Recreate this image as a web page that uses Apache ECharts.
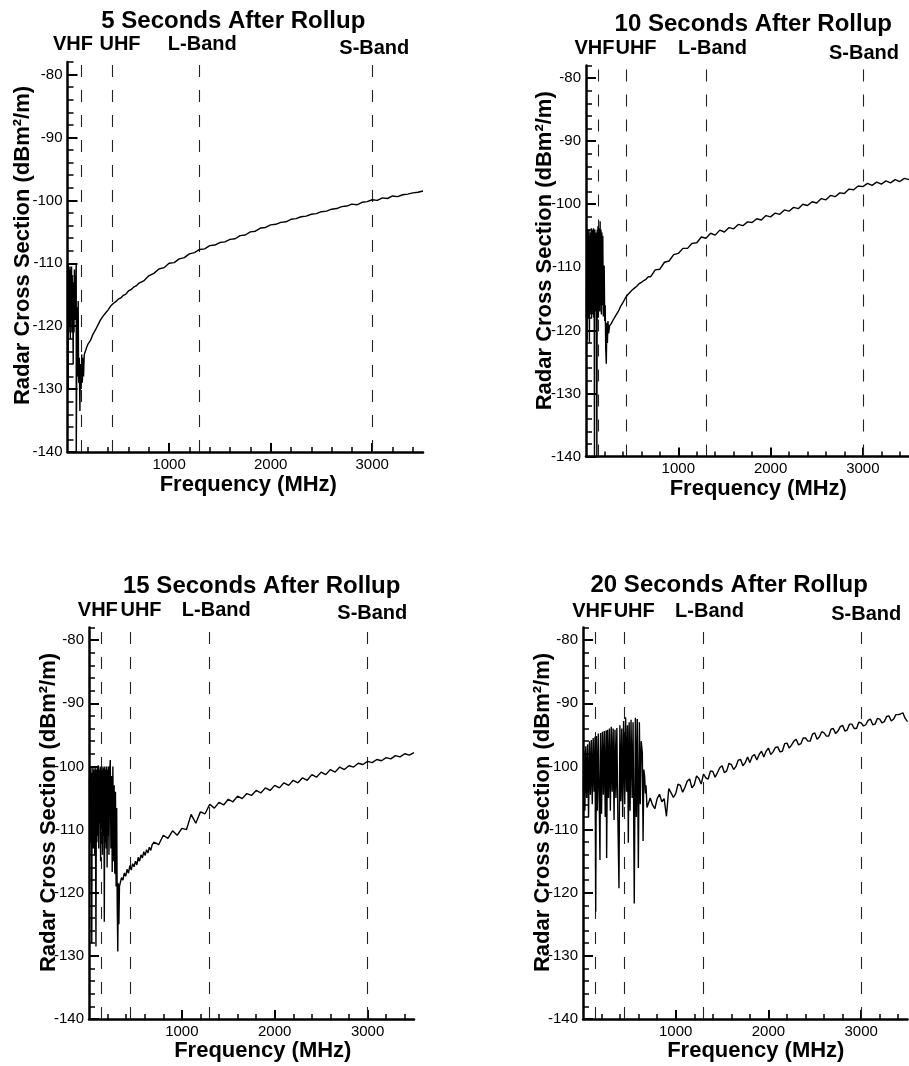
<!DOCTYPE html>
<html><head><meta charset="utf-8">
<script src="https://cdn.jsdelivr.net/npm/echarts@6/dist/echarts.min.js"></script>
<style>html,body{margin:0;padding:0;background:#fff}#c{width:909px;height:1066px}</style>
</head><body><div id="c"></div>
<script>
// ---------------- DATA ----------------
const panelTitles = ['5 Seconds After Rollup', '10 Seconds After Rollup', '15 Seconds After Rollup', '20 Seconds After Rollup'];
const bandNames = ['VHF', 'UHF', 'L-Band', 'S-Band'];
const bandFreqs = [135, 440, 1300, 3000];
const xTitle = 'Frequency (MHz)';
const yTitle = 'Radar Cross Section (dBm\u00B2/m)';
const xMajorTicks = [1000, 2000, 3000];
const xMinorTicks = [200, 400, 600, 800, 1200, 1400, 1600, 1800, 2200, 2400, 2600, 2800, 3200, 3400];
const yMajorTicks = [-140, -130, -120, -110, -100, -90, -80];
const yMinorTicks = [-138, -136, -134, -132, -128, -126, -124, -122, -118, -116, -114, -112, -108, -106, -104, -102, -98, -96, -94, -92, -88, -86, -84, -82, -78];

// low-frequency parts (MHz, dBm^2/m)
const low5s = [[86,-130],[8,-130],[8,-110],[12,-121],[16,-111],[20,-120],[24,-110.5],[28,-122],[32,-111],[36,-119],
 [40,-110.5],[44,-121],[48,-112],[52,-118],[56,-126],[60,-113],[64,-121],[68,-111],[72,-119],[76,-112],
 [80,-117],[84,-111],[86,-110],[86,-142],[94,-117],[100,-128],[105,-116],[110,-129],[116,-125],[122,-133.5],
 [128,-126],[134,-130],[140,-124.5],[146,-129],[152,-125],[158,-128],[165,-124.5],[175,-124.3],[190,-123.3],[200,-122.9],
 [225,-122.3],[250,-121.3],[275,-120.6],[300,-119.8],[325,-119.0],[350,-118.4],[375,-117.9],[400,-117.4],[425,-116.8],[450,-116.4],
 [475,-116.1],[500,-115.7],[525,-115.5],[550,-115.1],[575,-114.9],[600,-114.4],[625,-114.2],[650,-113.8],[675,-113.6]];

const low10s = [[5,-118],[8,-105],[12,-121.5],[16,-104],[20,-117],[24,-106],[28,-118],[32,-104],[37,-122],[41,-105],
 [45,-117.5],[49,-104.5],[53,-116],[57,-103.8],[61,-118],[65,-105],[69,-116.5],[73,-104],[77,-117.5],[81,-103.8],
 [85,-118],[88,-105],[92,-142],[96,-104],[100,-117],[104,-105],[108,-116],[112,-104.5],[118,-142],[122,-104],
 [126,-117],[130,-103.5],[134,-118],[138,-104],[142,-116.5],[146,-103.8],[150,-117],[153,-102.7],[158,-116],[162,-104],
 [167,-117.5],[172,-104.5],[177,-116],[182,-105],[188,-117.8],[197,-109.7],[203,-118.5],[208,-116],[214,-123],[220,-125.3],
 [226,-118.8],[232,-122],[238,-118.5],[245,-120.5],[255,-119.3],[275,-118.9],[300,-118.2],[325,-117.6],[350,-117.0],[375,-116.2],
 [400,-115.6],[425,-114.9],[450,-114.4],[475,-114.0],[500,-113.6],[525,-113.3],[550,-113.0],[575,-112.6],[600,-112.4],[625,-112.1],
 [650,-111.9],[675,-111.5]];

const low15s = [[5,-102],[9,-110],[13,-100.5],[17,-112],[21,-100.2],[25,-109],[30,-128],[34,-101],[38,-111],[42,-100],
 [46,-113],[50,-100.5],[54,-109],[58,-101],[62,-114],[66,-100],[70,-110],[75,-128.5],[80,-100.5],[85,-112],
 [90,-100],[95,-111],[100,-99.8],[105,-113],[110,-100.5],[115,-109],[120,-100],[125,-115],[130,-100.2],[135,-110],
 [140,-100.5],[145,-114],[150,-100],[155,-111],[160,-100.3],[165,-124.6],[170,-100],[175,-112],[180,-100.5],[185,-113],
 [190,-100],[195,-116],[200,-100.5],[205,-111],[210,-100],[215,-114],[222,-101],[229,-99],[236,-113],[243,-101.5],
 [250,-116.7],[257,-100],[264,-115],[271,-103],[278,-117],[285,-104],[292,-119],[298,-106.6],[304,-122],[310,-129.3],
 [316,-118.5],[322,-125],[328,-119],[335,-118.7],[350,-117.6],[365,-118.0],[380,-116.9],[395,-117.4],[410,-116.3],[425,-116.9],
 [440,-115.7],[455,-116.4],[470,-115.4],[485,-115.9],[500,-115.0],[515,-115.6],[530,-114.4],[545,-115.0],[560,-114.0],[575,-114.5],
 [590,-113.5],[605,-114.1],[620,-113.2],[635,-113.7],[650,-112.8],[665,-113.3],[680,-112.4]];

const low20s = [[5,-104],[10,-97.5],[20,-107],[30,-96.8],[40,-105],[50,-96.5],[60,-108],[70,-96],[80,-104.5],[90,-95.8],
 [100,-106],[110,-95.5],[120,-104],[130,-95.3],[137,-123],[145,-95.2],[155,-107],[165,-94.8],[175,-105],[183,-114.8],
 [190,-94.7],[200,-107.5],[210,-94.5],[220,-104.5],[230,-94.4],[240,-108],[250,-94.3],[255,-114.5],[265,-94.2],[275,-105],
 [285,-94],[295,-107],[305,-93.7],[315,-104],[325,-94],[335,-108.5],[345,-94.2],[355,-105],[365,-93.9],[375,-107],
 [388,-119.3],[398,-93.5],[408,-105.5],[418,-94],[428,-108],[438,-92.8],[450,-106],[460,-92.2],[470,-104],[480,-93.5],
 [489,-112.1],[498,-93],[508,-107],[518,-92.6],[530,-105],[540,-93],[553,-121.7],[565,-92.3],[575,-108],[585,-92.5],
 [597,-116.1],[608,-93],[618,-106],[628,-96],[640,-97.9],[648,-111.8],[656,-100.5],[665,-101.6],[673,-104.3],[680,-103],
 [690,-106.5]];

// high-frequency part, shared frequency grid
const freqHigh = [700,750,800,850,900,950,1000,1050,1100,1150,
 1200,1250,1300,1350,1400,1450,1500,1550,1600,1650,
 1700,1750,1800,1850,1900,1950,2000,2050,2100,2150,
 2200,2250,2300,2350,2400,2450,2500,2550,2600,2650,
 2700,2750,2800,2850,2900,2950,3000,3050,3100,3150,
 3200,3250,3300,3350,3400,3450,3500];

const high5s = [-113.2,-112.8,-112.0,-111.6,-110.9,-110.7,-110.0,-109.9,-109.3,-109.1,
 -108.5,-108.3,-107.8,-107.7,-107.2,-107.1,-106.7,-106.6,-106.2,-106.1,
 -105.6,-105.5,-105.0,-104.9,-104.4,-104.3,-103.9,-103.8,-103.5,-103.4,
 -103.0,-102.9,-102.6,-102.5,-102.2,-102.1,-101.8,-101.7,-101.4,-101.3,
 -101.0,-100.9,-100.6,-100.7,-100.3,-100.2,-99.9,-100.0,-99.6,-99.7,
 -99.3,-99.4,-99.1,-99.0,-98.8,-98.7,-98.5];

const high10s = [-111.5,-110.4,-110.3,-109.2,-109.0,-108.0,-107.8,-107.0,-107.0,-106.2,
 -106.1,-105.2,-105.4,-104.6,-104.9,-104.1,-104.4,-103.7,-103.9,-103.2,
 -103.4,-102.8,-102.9,-102.3,-102.5,-101.8,-102.0,-101.4,-101.6,-100.9,
 -101.1,-100.5,-100.7,-100.0,-100.2,-99.6,-99.8,-99.1,-99.3,-98.6,
 -98.8,-98.2,-98.3,-97.6,-97.7,-97.1,-97.2,-96.7,-97.0,-96.5,
 -96.8,-96.3,-96.6,-96.1,-96.4,-95.9,-96.1];

const high15s = [-112.0,-112.4,-110.9,-111.4,-110.2,-110.9,-109.8,-110.0,-107.6,-109.0,
 -107.2,-107.5,-106.0,-106.6,-105.7,-106.1,-105.2,-105.6,-104.7,-105.1,
 -104.3,-104.6,-103.8,-104.2,-103.4,-103.8,-103.0,-103.4,-102.6,-103.0,
 -102.2,-102.6,-101.8,-102.2,-101.3,-101.7,-100.9,-101.3,-100.5,-100.9,
 -100.1,-100.5,-99.9,-100.1,-99.5,-99.7,-99.2,-99.4,-98.9,-99.1,
 -98.6,-98.8,-98.3,-98.5,-98.0,-98.2,-97.8];

const high20s = [-106.6,-106.1,-105.1,-105.6,-107.9,-104.2,-104.3,-103.0,-103.3,-102.0,
 -102.9,-101.9,-101.2,-102.0,-100.8,-101.0,-99.9,-100.7,-99.7,-100.0,
 -98.9,-99.4,-99.4,-98.1,-98.1,-98.5,-97.1,-97.7,-96.9,-97.6,
 -96.3,-96.6,-95.7,-96.4,-95.5,-96.0,-94.7,-95.3,-94.7,-95.2,
 -94.0,-94.4,-93.5,-94.2,-93.3,-94.0,-93.1,-93.4,-92.5,-93.3,
 -92.5,-92.9,-92.0,-92.5,-91.8,-91.5,-92.9];

// extra in-between samples for the noisier 20 s trace
const freqMid = [725,775,825,875,925,975,1025,1075,1125,1175,
 1225,1275,1325,1375,1425,1475,1525,1575,1625,1675,
 1725,1775,1825,1875,1925,1975,2025,2075,2125,2175,
 2225,2275,2325,2375,2425,2475,2525,2575,2625,2675,
 2725,2775,2825,2875,2925,2975,3025,3075,3125,3175,
 3225,3275,3325,3375,3425,3475];
const mid20s = [-105.0,-106.7,-104.4,-105.1,-103.5,-104.9,-102.8,-104.1,-102.3,-103.4,
 -101.5,-102.8,-101.8,-100.7,-101.7,-100.2,-101.0,-99.5,-100.5,-99.0,
 -99.9,-98.5,-98.4,-99.0,-97.6,-97.6,-98.1,-97.0,-97.7,-96.4,
 -97.1,-96.0,-96.6,-95.5,-96.0,-94.9,-95.7,-94.5,-95.2,-94.1,
 -94.8,-93.7,-94.4,-93.3,-94.0,-93.0,-93.6,-92.7,-93.4,-92.4,
 -93.1,-92.1,-92.8,-91.8,-91.7,-92.4];

// ---------------- LAYOUT ----------------
const FONT = '"Liberation Sans", Arial, Helvetica, sans-serif';
const grids = [
  {left: 67.5, top: 62, width: 355.5, height: 390},
  {left: 586, top: 65.5, width: 323, height: 391},
  {left: 89, top: 627.5, width: 325, height: 391.5},
  {left: 583, top: 627.5, width: 324.5, height: 391.5}
];
const textPos = [
  {title: [233.3, 21], bands: [[73, 44.7], [120, 44.7], [202.3, 44.7], [374.3, 48.3]], xName: [248.3, 485.2], yName: [23.3, 245.5]},
  {title: [753.3, 24.7], bands: [[594.5, 48], [636, 48], [712.5, 48], [864, 53]], xName: [758.3, 489.2], yName: [544.7, 250.8]},
  {title: [261.7, 586.7], bands: [[97.8, 610], [141, 610], [216.3, 610], [372.3, 613.7]], xName: [262.8, 1050.8], yName: [49.2, 812.5]},
  {title: [729.2, 585], bands: [[592.2, 611.3], [634.2, 611.3], [709.5, 611.3], [866.2, 614.7]], xName: [755.8, 1050.8], yName: [542.5, 812.5]}
];

function pairs(freqs, vals) { return freqs.map((f, i) => [f, vals[i]]); }
const high20Merged = pairs(freqHigh, high20s).concat(pairs(freqMid, mid20s)).sort((a, b) => a[0] - b[0]);
const seriesData = [
  low5s.concat(pairs(freqHigh, high5s)),
  low10s.concat(pairs(freqHigh, high10s)),
  low15s.concat(pairs(freqHigh, high15s)),
  low20s.concat(high20Merged)
];
const plainNum = v => String(v);

const xAxes = [], yAxes = [], series = [], graphics = [];
grids.forEach((g, i) => {
  xAxes.push({
    type: 'value', gridIndex: i, min: 0, max: 3500, position: 'bottom',
    axisLine: {show: true, lineStyle: {color: '#000', width: 2.5}},
    axisTick: {show: true, inside: true, length: 9, customValues: xMajorTicks, lineStyle: {color: '#000', width: 2}},
    axisLabel: {show: true, customValues: xMajorTicks, formatter: plainNum, margin: 5, fontSize: 15, color: '#000', fontFamily: FONT},
    splitLine: {show: false}
  });
  xAxes.push({
    type: 'value', gridIndex: i, min: 0, max: 3500, position: 'bottom',
    axisLine: {show: false},
    axisTick: {show: true, inside: true, length: 5, customValues: xMinorTicks, lineStyle: {color: '#000', width: 1.5}},
    axisLabel: {show: false}, splitLine: {show: false}
  });
  yAxes.push({
    type: 'value', gridIndex: i, min: -140, max: -78, position: 'left',
    axisLine: {show: true, lineStyle: {color: '#000', width: 2.5}},
    axisTick: {show: true, inside: true, length: 10, customValues: yMajorTicks, lineStyle: {color: '#000', width: 2}},
    axisLabel: {show: true, customValues: yMajorTicks, formatter: plainNum, margin: 5, fontSize: 15, color: '#000', fontFamily: FONT},
    splitLine: {show: false}
  });
  yAxes.push({
    type: 'value', gridIndex: i, min: -140, max: -78, position: 'left',
    axisLine: {show: false},
    axisTick: {show: true, inside: true, length: 6, customValues: yMinorTicks, lineStyle: {color: '#000', width: 1.5}},
    axisLabel: {show: false}, splitLine: {show: false}
  });
  series.push({
    type: 'line', xAxisIndex: 2 * i, yAxisIndex: 2 * i,
    data: seriesData[i], symbol: 'none', silent: true, animation: false, z: 3,
    lineStyle: {color: '#000', width: 1.4},
    markLine: {
      symbol: ['none', 'none'], silent: true, animation: false, z: 2,
      label: {show: false},
      lineStyle: {color: '#222', width: 1.1, type: [12, 13]},
      data: bandFreqs.map(f => ({xAxis: f}))
    }
  });
  const tp = textPos[i];
  graphics.push({type: 'text', x: tp.title[0], y: tp.title[1],
    style: {text: panelTitles[i], fill: '#000', fontSize: 24, fontWeight: 'bold', fontFamily: FONT, align: 'center', verticalAlign: 'middle'}});
  bandNames.forEach((b, k) => {
    graphics.push({type: 'text', x: tp.bands[k][0], y: tp.bands[k][1],
      style: {text: b, fill: '#000', fontSize: 20, fontWeight: 'bold', fontFamily: FONT, align: 'center', verticalAlign: 'middle'}});
  });
  graphics.push({type: 'text', x: tp.xName[0], y: tp.xName[1],
    style: {text: xTitle, fill: '#000', fontSize: 22, fontWeight: 'bold', fontFamily: FONT, align: 'center', verticalAlign: 'middle'}});
  graphics.push({type: 'text', x: tp.yName[0], y: tp.yName[1], rotation: Math.PI / 2,
    style: {text: yTitle, fill: '#000', fontSize: 22, fontWeight: 'bold', fontFamily: FONT, align: 'center', verticalAlign: 'middle'}});
});

const chart = echarts.init(document.getElementById('c'), null, {renderer: 'canvas'});
chart.setOption({
  backgroundColor: '#fff',
  animation: false,
  grid: grids.map(g => Object.assign({containLabel: false}, g)),
  xAxis: xAxes,
  yAxis: yAxes,
  series: series,
  graphic: graphics
});
</script></body></html>
